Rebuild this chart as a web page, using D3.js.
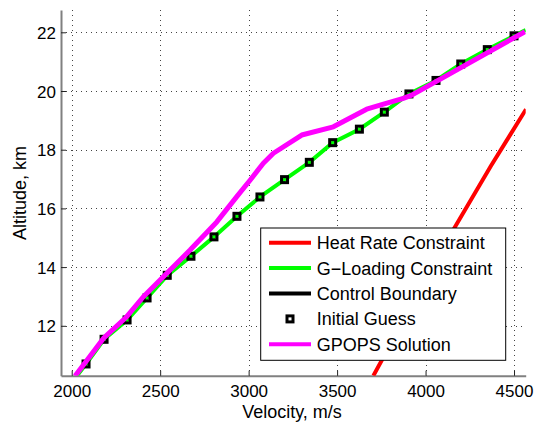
<!DOCTYPE html>
<html><head><meta charset="utf-8">
<script src="https://cdn.jsdelivr.net/npm/d3@7"></script>
<style>body{margin:0;background:#fff}svg{display:block;font-family:"Liberation Sans",Arial,Helvetica,sans-serif}</style>
</head><body>
<script>
// Data
const xTicks = [2000, 2500, 3000, 3500, 4000, 4500];
const yTicks = [12, 14, 16, 18, 20, 22];
const heatV = [3705, 3930, 4157, 4370, 4568];
const heatH = [10.30, 12.78, 15.27, 17.45, 19.38];
const gloadV = [2030, 2081, 2183, 2313, 2426, 2540, 2674, 2804, 2934, 3064, 3203, 3343, 3475, 3626, 3767, 3906, 4059, 4199, 4349, 4500, 4566];
const gloadH = [10.30, 10.70, 11.54, 12.20, 12.95, 13.72, 14.37, 15.03, 15.73, 16.39, 16.98, 17.57, 18.24, 18.70, 19.28, 19.90, 20.36, 20.92, 21.41, 21.88, 22.08];
const guessV = [2081, 2183, 2313, 2426, 2540, 2674, 2804, 2934, 3064, 3203, 3343, 3475, 3626, 3767, 3906, 4059, 4199, 4349, 4500];
const guessH = [10.70, 11.54, 12.20, 12.95, 13.72, 14.37, 15.03, 15.73, 16.39, 16.98, 17.57, 18.24, 18.70, 19.28, 19.90, 20.36, 20.92, 21.41, 21.88];
const gpopsV = [2019, 2179, 2311, 2405, 2518, 2669, 2820, 2933, 3008, 3083, 3140, 3300, 3479, 3667, 3743, 3874, 3922, 4562];
const gpopsH = [10.29, 11.57, 12.31, 12.99, 13.67, 14.58, 15.54, 16.40, 16.96, 17.54, 17.88, 18.50, 18.78, 19.38, 19.52, 19.75, 19.86, 22.02];
const legendLabels = ["Heat Rate Constraint", "G\u2212Loading Constraint", "Control Boundary", "Initial Guess", "GPOPS Solution"];
const legendColors = ["#ff0000", "#00ff00", "#000000", null, "#ff00ff"];

const W = 534, H = 422;
const L = 61, R = 525.7, T = 10, B = 375.7;
const svg = d3.select("body").append("svg").attr("width", W).attr("height", H);
const x = d3.scaleLinear().domain([1939.5, 4566]).range([L, R]);
const y = d3.scaleLinear().domain([10.3, 22.76]).range([B, T]);

svg.append("defs").append("clipPath").attr("id", "clip")
  .append("rect").attr("x", L).attr("y", T).attr("width", R - L).attr("height", B - T);

// grid
const grid = svg.append("g").attr("stroke", "#444").attr("stroke-width", 1).attr("stroke-dasharray", "1,4");
grid.selectAll(".gx").data(xTicks).join("line")
  .attr("x1", d => Math.round(x(d)) + 0.5).attr("x2", d => Math.round(x(d)) + 0.5)
  .attr("y1", T).attr("y2", B);
grid.selectAll(".gy").data(yTicks).join("line")
  .attr("y1", d => Math.round(y(d)) + 0.5).attr("y2", d => Math.round(y(d)) + 0.5)
  .attr("x1", L).attr("x2", R);

// axes
const fmt = d3.format("d");
const xAxis = d3.axisBottom(x).tickValues(xTicks).tickFormat(fmt).tickSizeInner(-5).tickSizeOuter(0).tickPadding(10);
const yAxis = d3.axisLeft(y).tickValues(yTicks).tickFormat(fmt).tickSizeInner(-5).tickSizeOuter(0).tickPadding(10);
const gx = svg.append("g").attr("transform", `translate(0,${B})`).call(xAxis);
const gy = svg.append("g").attr("transform", `translate(${L},0)`).call(yAxis);
[gx, gy].forEach(g => {
  g.select(".domain").attr("stroke", "#808080").attr("stroke-width", 2);
  g.selectAll(".tick line").attr("stroke", "#222").attr("stroke-width", 1);
  g.selectAll(".tick text").attr("font-size", 17).attr("fill", "#000")
    .attr("font-family", '"Liberation Sans",Arial,Helvetica,sans-serif');
});
gx.selectAll(".tick text").attr("dy", "0.71em").attr("y", 9.5);
gy.selectAll(".tick text").attr("x", -5).attr("dy", "0.36em");

// axis labels
svg.append("text").attr("x", 292).attr("y", 418.3).attr("text-anchor", "middle")
  .attr("font-size", 18).text("Velocity, m/s");
svg.append("text").attr("transform", "translate(25.5,193) rotate(-90)").attr("text-anchor", "middle")
  .attr("font-size", 18).text("Altitude, km");

// data lines
const plot = svg.append("g").attr("clip-path", "url(#clip)");
const line = d3.line().x(d => x(d[0])).y(d => y(d[1]));
const zip = (a, b) => a.map((v, i) => [v, b[i]]);
plot.append("path").datum(zip(heatV, heatH)).attr("d", line)
  .attr("fill", "none").attr("stroke", "#ff0000").attr("stroke-width", 4).attr("stroke-linejoin", "round");
plot.append("path").datum(zip(gloadV, gloadH)).attr("d", line)
  .attr("fill", "none").attr("stroke", "#00ff00").attr("stroke-width", 4);
plot.selectAll(".sq").data(zip(guessV, guessH)).join("rect")
  .attr("x", d => x(d[0]) - 3).attr("y", d => y(d[1]) - 3).attr("width", 6).attr("height", 6)
  .attr("fill", "none").attr("stroke", "#000").attr("stroke-width", 3);
plot.append("path").datum(zip(gpopsV, gpopsH)).attr("d", line)
  .attr("fill", "none").attr("stroke", "#ff00ff").attr("stroke-width", 5).attr("stroke-linejoin", "round");

// legend
const lg = svg.append("g");
lg.append("rect").attr("x", 260.7).attr("y", 228).attr("width", 245).attr("height", 132.3)
  .attr("fill", "#fff").attr("stroke", "#000").attr("stroke-width", 1);
legendLabels.forEach((lab, i) => {
  const yy = 242.7 + i * 25.4;
  if (legendColors[i]) {
    lg.append("line").attr("x1", 269).attr("x2", 311).attr("y1", yy).attr("y2", yy)
      .attr("stroke", legendColors[i]).attr("stroke-width", 4);
  } else {
    lg.append("rect").attr("x", 287).attr("y", yy - 3).attr("width", 6).attr("height", 6)
      .attr("fill", "none").attr("stroke", "#000").attr("stroke-width", 3);
  }
  lg.append("text").attr("x", 316.7).attr("y", yy).attr("dy", "0.36em")
    .attr("font-size", 18).text(lab);
});
</script>
</body></html>
